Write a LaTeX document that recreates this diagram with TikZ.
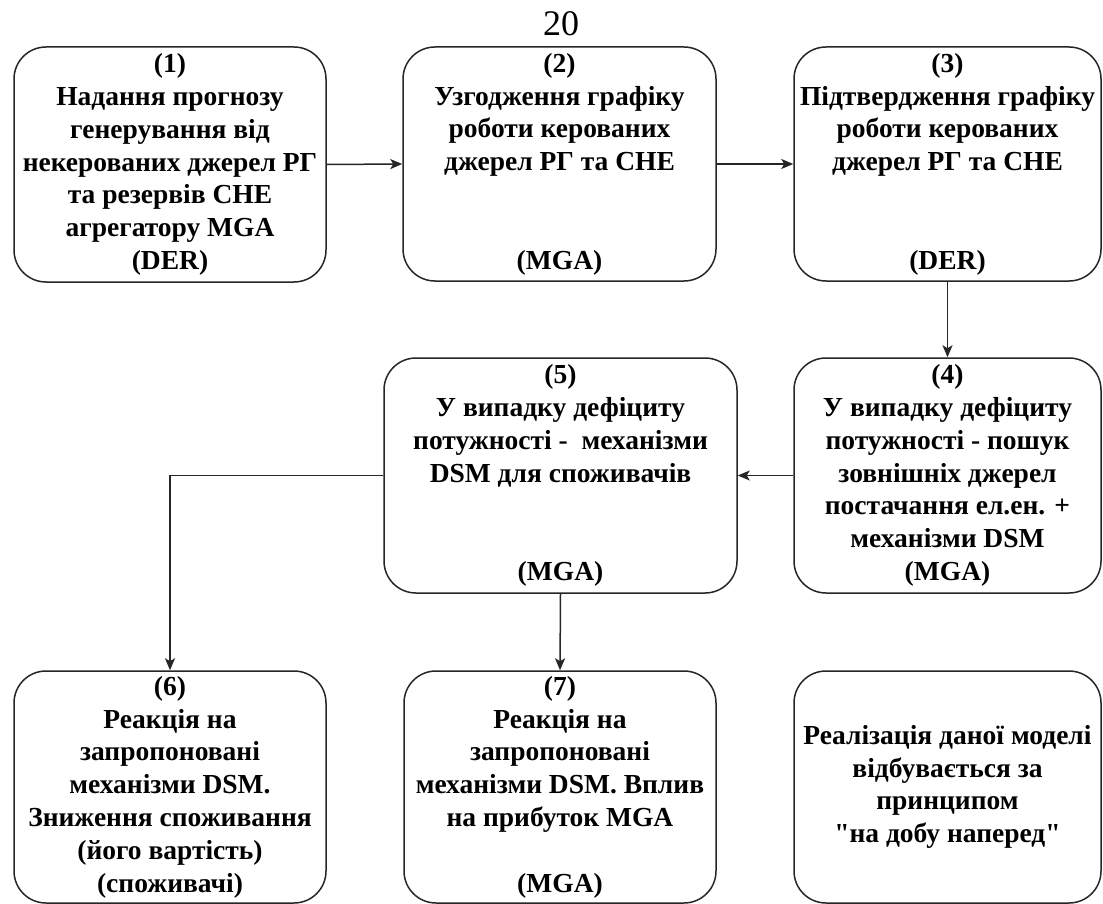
\documentclass[tikz,border=0pt]{standalone}
\usepackage{fontspec}
\setmainfont{Liberation Serif}[Ligatures=TeXOff, BoldFont={Liberation Serif Bold}]
\usetikzlibrary{arrows.meta}
\begin{document}
\begin{tikzpicture}[x=1pt,y=-1pt,
  stagebox/.style={draw=black!85, line width=1.5pt, rounded corners=32pt,
    align=center, inner sep=0pt,
    font=\bfseries\fontsize{27.5}{32.8}\selectfont},
  flow/.style={draw=black!85, line width=1.5pt,
    -{Stealth[length=12pt,width=10pt,inset=3pt]}}]
\useasboundingbox (0,0) rectangle (1103,904);
\fill[white] (0,0) rectangle (1103,904);

% page number
\node (pg) at (561,24) {\fontsize{36}{40}\selectfont 20};

% top row
\node[stagebox, minimum width=312pt, minimum height=235pt] (b1) at (170,164.5)
  {(1)\\Надання прогнозу\\генерування від\\некерованих джерел РГ\\та резервів СНЕ\\агрегатору MGA\\(DER)};
\node[stagebox, minimum width=313pt, minimum height=234pt] (b2) at (559.5,164)
  {(2)\\Узгодження графіку\\роботи керованих\\джерел РГ та СНЕ\\[65.6pt](MGA)};
\node[stagebox, minimum width=307pt, minimum height=234pt] (b3) at (947.5,164)
  {(3)\\Підтвердження графіку\\роботи керованих\\джерел РГ та СНЕ\\[65.6pt](DER)};

% middle row
\node[stagebox, minimum width=307pt, minimum height=235pt] (b4) at (947.5,475.5)
  {(4)\\У випадку дефіциту\\потужності - пошук\\зовнішніх джерел\\постачання ел.ен. +\\механізми DSM\\(MGA)};
\node[stagebox, minimum width=353pt, minimum height=235pt] (b5) at (560.5,475.5)
  {(5)\\У випадку дефіциту\\потужності -\ \ механізми\\DSM для споживачів\\[65.6pt](MGA)};

% bottom row
\node[stagebox, minimum width=312pt, minimum height=232pt] (b6) at (170,787)
  {(6)\\Реакція на\\запропоновані\\механізми DSM.\\Зниження споживання\\(його вартість)\\(споживачі)};
\node[stagebox, minimum width=312pt, minimum height=232pt] (b7) at (560,787)
  {(7)\\Реакція на\\запропоновані\\механізми DSM. Вплив\\на прибуток MGA\\[32.8pt](MGA)};
\node[stagebox, minimum width=307pt, minimum height=232pt] (b8) at (947.5,787)
  {Реалізація даної моделі\\відбувається за\\принципом\\"на добу наперед"};

% connectors
\draw[flow] (b1.east) -- (b2.west);
\draw[flow] (b2.east) -- (b3.west);
\draw[flow] (b3.south) -- (b4.north);
\draw[flow] (b4.west) -- (b5.east);
\draw[flow] (b5.west) -| (b6.north);
\draw[flow] (b5.south) -- (b7.north);
\end{tikzpicture}
\end{document}
